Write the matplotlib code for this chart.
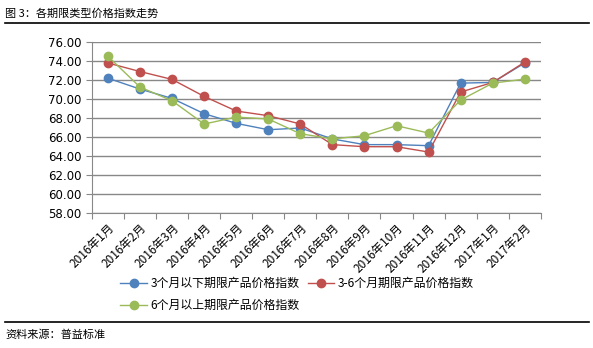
import matplotlib.pyplot as plt
from matplotlib.lines import Line2D

plt.rcParams['font.family'] = ['Noto Sans CJK SC', 'DejaVu Sans']

months = ["2016年1月", "2016年2月", "2016年3月", "2016年4月", "2016年5月", "2016年6月",
          "2016年7月", "2016年8月", "2016年9月", "2016年10月", "2016年11月", "2016年12月",
          "2017年1月", "2017年2月"]
below_3m = [72.2, 71.05, 70.07, 68.46, 67.44, 66.77, 66.95, 65.8, 65.2, 65.2, 65.09, 71.68, 71.75, 73.8]
m3_to_6 = [73.8, 72.9, 72.07, 70.28, 68.74, 68.25, 67.37, 65.2, 64.98, 64.98, 64.42, 70.74, 71.75, 73.9]
above_6m = [74.5, 71.26, 69.82, 67.37, 68.1, 67.9, 66.35, 65.8, 66.14, 67.19, 66.42, 69.9, 71.68, 72.1]
names = ["3个月以下期限产品价格指数", "3-6个月期限产品价格指数", "6个月以上期限产品价格指数"]
colors = ["#4F81BD", "#C0504D", "#9BBB59"]
yticks = [58, 60, 62, 64, 66, 68, 70, 72, 74, 76]

fig = plt.figure(figsize=(5.93, 3.48), dpi=100)
ax = fig.add_axes([0.155, 0.388, 0.757, 0.491])

x = list(range(len(months)))
for vals, name, c in zip([below_3m, m3_to_6, above_6m], names, colors):
    ax.plot(x, vals, color=c, lw=1.0, marker="o", ms=6, label=name, zorder=3)

ax.set_xlim(-0.5, len(months) - 0.5)
ax.set_ylim(58, 76)
ax.set_yticks(yticks)
ax.set_yticklabels([f"{v:.2f}" for v in yticks], fontsize=8.5, family="DejaVu Sans")
ax.yaxis.grid(True, color="#888888", lw=1)
ax.set_axisbelow(True)

# category ticks at boundaries, labels at centers
ax.set_xticks([i - 0.5 for i in range(len(months) + 1)])
ax.set_xticklabels([])
ax.set_xticks(x, minor=True)
ax.set_xticklabels(months, minor=True, rotation=45, ha="right", rotation_mode="anchor", fontsize=8.5)
ax.tick_params(axis="x", which="major", length=4, color="#888888")
ax.tick_params(axis="x", which="minor", length=0, pad=6)
ax.tick_params(axis="y", length=4, color="#888888")

for s in ["top", "right"]:
    ax.spines[s].set_visible(False)
for s in ["left", "bottom"]:
    ax.spines[s].set_color("#888888")

# column-first fill: blue, green in col 1; red in col 2
order = [0, 2, 1]
handles = [Line2D([0], [0], color=colors[i], lw=1, marker="o", ms=6) for i in order]
fig.legend(handles, [names[i] for i in order], ncol=2, loc="upper left",
           bbox_to_anchor=(0.185, 0.235), frameon=False, fontsize=8.6,
           handlelength=2.2, columnspacing=0.7, handletextpad=0.3, labelspacing=0.75)

fig.text(0.009, 0.962, "图 3：各期限类型价格指数走势", fontsize=8, va="center")
fig.add_artist(Line2D([0.008, 0.993], [0.934, 0.934], color="black", lw=1.2))
fig.add_artist(Line2D([0.008, 0.993], [0.075, 0.075], color="black", lw=1.2))
fig.text(0.009, 0.037, "资料来源：普益标准", fontsize=8, va="center")

fig.savefig("out.png", dpi=100)
